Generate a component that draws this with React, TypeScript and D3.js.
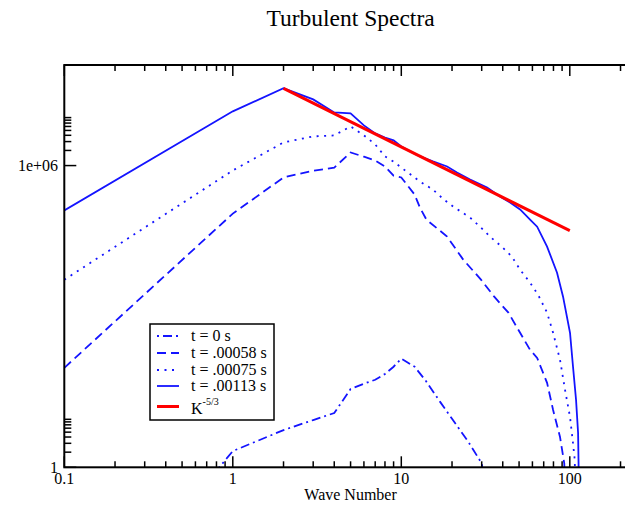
import React from "react";
import * as d3 from "d3";

// Energy spectra E(k) at successive times, [wave number, energy]
const spectrumT0: [number, number][] = [
  [0.1, 2e-4], [1, 2.1], [2, 5.5], [3, 8.7], [4, 12], [5, 36], [6, 46], [7, 55],
  [8, 72], [9, 100], [10, 145], [12, 100], [14, 52], [17, 20], [20, 9.2],
  [25, 3.2], [30, 1.2], [32, 0.3],
];
const spectrumT00058: [number, number][] = [
  [0.1, 95], [1, 1.11e5], [2, 5.8e5], [3, 7.9e5], [4, 9.1e5], [5, 1.82e6], [6, 1.5e6],
  [7, 1.26e6], [8, 9.6e5], [9, 6.3e5], [10, 5.8e5], [12, 2.65e5], [12.9, 1.46e5],
  [14.1, 8.4e4], [18.7, 3.87e4], [23.3, 1.35e4], [29.7, 5.4e3], [35.6, 2.47e3],
  [43.2, 1.19e3], [50.7, 473], [58.1, 217], [64, 150], [73.3, 47.8], [79.6, 13.8],
  [87.5, 4.0], [92.7, 1.2], [94, 0.3],
];
const spectrumT00075: [number, number][] = [
  [0.1, 5.36e3], [1, 8.0e5], [2, 2.88e6], [3, 3.8e6], [4, 3.98e6], [5, 6.0e6], [6, 4.0e6],
  [7, 2.63e6], [8, 1.52e6], [9, 1.2e6], [10, 9.1e5], [12.9, 4.82e5], [15.4, 3.34e5],
  [17.9, 2.11e5], [20.3, 1.53e5], [25.6, 9.25e4], [29.7, 5.85e4], [34.1, 3.7e4],
  [39.4, 2.45e4], [45.3, 1.55e4], [50.7, 8.5e3], [58.1, 4.7e3], [64.8, 2.7e3],
  [73.3, 1.19e3], [79.6, 473], [87.5, 137], [93.7, 34.5], [100.3, 10], [104.5, 3.0],
  [107, 1.4], [108, 0.3],
];
const spectrumT00113: [number, number][] = [
  [0.1, 1.28e5], [1, 1.2e7], [2, 3.44e7], [3, 2.07e7], [4, 1.14e7], [5, 1.09e7],
  [6, 6.3e6], [7, 4.37e6], [8, 3.6e6], [9, 3.17e6], [10, 2.4e6], [12.9, 1.52e6],
  [15.4, 1.21e6], [18.7, 9.6e5], [21.4, 7.3e5], [25.6, 5.3e5], [32.3, 3.66e5],
  [38.5, 2.42e5], [44.2, 1.84e5], [50.7, 1.34e5], [58.1, 8.45e4], [64, 6.1e4],
  [73.3, 2.45e4], [84, 7.4e3], [91.2, 2.47e3], [100.3, 473], [104.5, 100],
  [108.9, 22], [112, 4.8], [112.7, 1.2], [113.2, 0.3],
];

// Kolmogorov reference slope E = C k^(-5/3)
const kolmogorovExponent = -5 / 3;
const kolmogorovAmplitude = 1.092e8;
const kolmogorovRange = [2, 100];

const xMajorTicks = [0.1, 1, 10, 100];
const xTickLabels = ["0.1", "1", "10", "100"];
const yMajorTicks = [1, 1e6];
const yTickLabels = ["1", "1e+06"];

const seriesNames = ["t = 0 s", "t = .00058 s", "t = .00075 s", "t = .00113 s"];

const W = 625;
const H = 506;
const left = 64.3;
const top = 65;
const bottom = 467.3;
const decadePx = 168.5;
const FONT = "'Liberation Serif', 'Times New Roman', serif";
const BLUE = "#1414ff";
const RED = "#ff0000";

export default function App() {
  const x = d3
    .scaleLog()
    .domain([0.1, 250])
    .range([left, left + decadePx * Math.log10(2500)]);
  const y = d3.scaleLog().domain([1, 1e8]).range([bottom, top]);
  const right = x.range()[1];

  const line = d3
    .line<[number, number]>()
    .x((d) => x(d[0]))
    .y((d) => y(d[1]));

  const kolmogorov: [number, number][] = kolmogorovRange.map((k) => [
    k,
    kolmogorovAmplitude * Math.pow(k, kolmogorovExponent),
  ]);

  const series = [
    { data: spectrumT0, dash: "2,4,9,4" },
    { data: spectrumT00058, dash: "9,5" },
    { data: spectrumT00075, dash: "2,5.5" },
    { data: spectrumT00113, dash: "" },
  ];

  // minor ticks: 2..9 within each decade for x; within the decade above each major for y
  const xMinor: number[] = [];
  [0.1, 1, 10, 100].forEach((d) => {
    for (let m = 2; m <= 9; m++) {
      const v = d * m;
      if (v <= 250) xMinor.push(v);
    }
  });
  const yMinor: number[] = [];
  yMajorTicks.forEach((d) => {
    for (let m = 2; m <= 9; m++) yMinor.push(d * m);
  });

  const majorLen = 11;
  const minorLen = 6;

  const legendX = 150;
  const legendY = 324;
  const legendRows = [336, 353, 370, 386, 406.5];

  return (
    <svg
      width={W}
      height={H}
      style={{ position: "absolute", left: 0, top: 0, background: "#fff" }}
    >
      <defs>
        <clipPath id="plot-area">
          <rect x={left} y={top} width={right - left} height={bottom - top} />
        </clipPath>
      </defs>
      <rect width={W} height={H} fill="#fff" />

      <text
        x={(left + right) / 2}
        y={26}
        textAnchor="middle"
        fontFamily={FONT}
        fontSize={23.5}
      >
        Turbulent Spectra
      </text>

      <g clipPath="url(#plot-area)">
        {series.map((s, i) => (
          <path
            key={i}
            d={line(s.data) || ""}
            fill="none"
            stroke={BLUE}
            strokeWidth={1.8}
            strokeDasharray={s.dash || undefined}
          />
        ))}
        <path d={line(kolmogorov) || ""} fill="none" stroke={RED} strokeWidth={3} />
      </g>

      {/* ticks */}
      <g stroke="#000" strokeWidth={1.5}>
        {xMajorTicks.map((t) => (
          <g key={"xM" + t}>
            <line x1={x(t)} x2={x(t)} y1={bottom} y2={bottom - majorLen} />
            <line x1={x(t)} x2={x(t)} y1={top} y2={top + majorLen} />
          </g>
        ))}
        {xMinor.map((t) => (
          <g key={"xm" + t}>
            <line x1={x(t)} x2={x(t)} y1={bottom} y2={bottom - minorLen} />
            <line x1={x(t)} x2={x(t)} y1={top} y2={top + minorLen} />
          </g>
        ))}
        {yMajorTicks.map((t) => (
          <line key={"yM" + t} x1={left} x2={left + majorLen + 1} y1={y(t)} y2={y(t)} />
        ))}
        {yMinor.map((t) => (
          <line key={"ym" + t} x1={left} x2={left + minorLen + 1} y1={y(t)} y2={y(t)} />
        ))}
      </g>

      <rect
        x={left}
        y={top}
        width={right - left}
        height={bottom - top}
        fill="none"
        stroke="#000"
        strokeWidth={2}
      />

      {xMajorTicks.map((t, i) => (
        <text
          key={"xl" + t}
          x={x(t)}
          y={484}
          textAnchor="middle"
          fontFamily={FONT}
          fontSize={16}
        >
          {xTickLabels[i]}
        </text>
      ))}
      {yMajorTicks.map((t, i) => (
        <text
          key={"yl" + t}
          x={58}
          y={y(t) + 5.5}
          textAnchor="end"
          fontFamily={FONT}
          fontSize={16}
        >
          {yTickLabels[i]}
        </text>
      ))}

      <text
        x={(left + right) / 2}
        y={500}
        textAnchor="middle"
        fontFamily={FONT}
        fontSize={16}
      >
        Wave Number
      </text>

      {/* legend */}
      <rect
        x={legendX}
        y={legendY}
        width={124}
        height={96}
        fill="#fff"
        stroke="#000"
        strokeWidth={1.5}
      />
      {series.map((s, i) => (
        <g key={"lg" + i}>
          <line
            x1={157}
            x2={179}
            y1={legendRows[i]}
            y2={legendRows[i]}
            stroke={BLUE}
            strokeWidth={1.8}
            strokeDasharray={s.dash || undefined}
          />
          <text x={191} y={legendRows[i] + 5} fontFamily={FONT} fontSize={16}>
            {seriesNames[i]}
          </text>
        </g>
      ))}
      <line
        x1={157}
        x2={179}
        y1={legendRows[4]}
        y2={legendRows[4]}
        stroke={RED}
        strokeWidth={3}
      />
      <text x={191} y={legendRows[4] + 7.5} fontFamily={FONT} fontSize={16}>
        K
        <tspan dy={-9} fontSize={10}>
          -5/3
        </tspan>
      </text>
    </svg>
  );
}
